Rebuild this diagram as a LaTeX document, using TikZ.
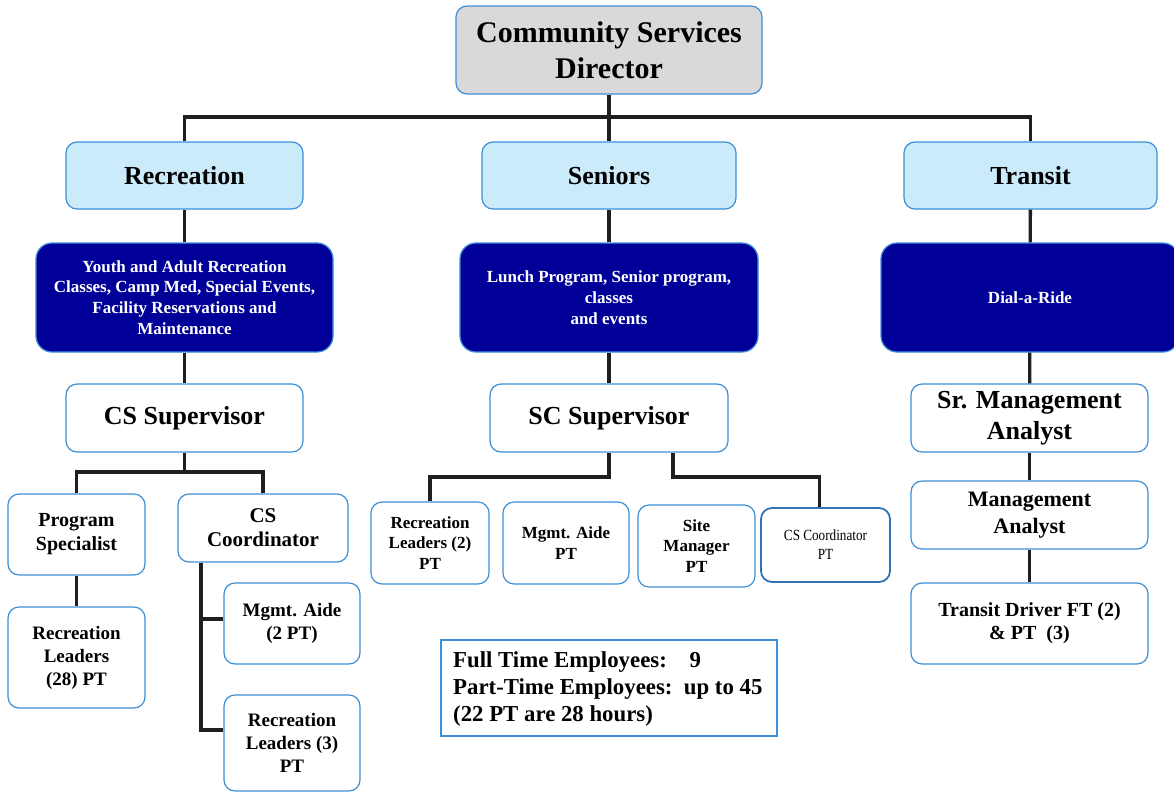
\documentclass[tikz,border=0pt]{standalone}
\usepackage{fontspec}
\setmainfont{Liberation Serif}
\newfontfamily\condfont{Liberation Serif}[FakeStretch=0.85]
\newcommand\fsz[2]{\fontsize{#1}{#2}\selectfont}
\definecolor{bord}{HTML}{3D8FD6}
\definecolor{bordd}{HTML}{2F75B5}
\definecolor{lblue}{HTML}{CCEBFA}
\definecolor{navy}{HTML}{000099}
\definecolor{dgray}{HTML}{D9D9D9}
\tikzset{
 conn/.style={line width=3.3pt, draw=black!88},
 bx/.style={draw=bord, line width=1.2pt, rounded corners=11pt, align=center, inner sep=0pt, text=black},
 wbox/.style={bx, fill=white},
 lbox/.style={bx, fill=lblue, minimum width=237pt, minimum height=67pt, font=\bfseries\fsz{26}{31}},
 dbox/.style={bx, fill=navy, text=white, rounded corners=16pt, minimum width=297pt, minimum height=109pt, font=\bfseries\fsz{17}{20.7}},
}
\begin{document}
\begin{tikzpicture}[x=1pt,y=-1pt]
\useasboundingbox[fill=white] (0,0) rectangle (1174,793);
% top
\node[bx, fill=dgray, minimum width=306pt, minimum height=88pt, font=\bfseries\fsz{30}{36}] (dir) at (609,50) {Community Services\\Director};
\node[lbox] (rec) at (184.5,175.5) {Recreation};
\node[lbox, minimum width=254pt] (sen) at (609,175.5) {Seniors};
\node[lbox, minimum width=253pt] (tra) at (1030.5,175.5) {Transit};
% dark boxes
\node[dbox] (recd) at (184.5,297.5) {Youth and Adult Recreation\\Classes, Camp Med, Special Events,\\Facility Reservations and\\Maintenance};
\node[dbox, minimum width=298pt] (send) at (609,297.5) {Lunch Program, Senior program,\\classes\\and events};
\node[dbox, minimum width=298pt] (trad) at (1030,297.5) {Dial-a-Ride};
% supervisors
\node[wbox, minimum width=237pt, minimum height=68pt, font=\bfseries\fsz{26}{31}] (cssup) at (184.5,418) {CS Supervisor};
\node[wbox, minimum width=238pt, minimum height=68pt, font=\bfseries\fsz{26}{31}] (scsup) at (609,418) {SC Supervisor};
\node[wbox, minimum width=237pt, minimum height=68pt, font=\bfseries\fsz{26}{31}] (srma) at (1029.5,418) {Sr. Management\\Analyst};
% transit column
\node[wbox, minimum width=237pt, minimum height=68pt, font=\bfseries\fsz{22}{27}] (ma) at (1029.5,515) {Management\\Analyst};
\node[wbox, minimum width=237pt, minimum height=81pt, font=\bfseries\fsz{20}{23}] (td) at (1029.5,623.5) {Transit Driver FT (2)\\\& PT\ \ (3)};
% recreation column
\node[wbox, minimum width=137pt, minimum height=81pt, font=\bfseries\fsz{20}{24}] (ps) at (76.5,534.5) {Program\\Specialist};
\node[wbox, minimum width=137pt, minimum height=101pt, font=\bfseries\fsz{19}{23}] (rl28) at (76.5,657.5) {Recreation\\Leaders\\(28) PT};
\node[wbox, minimum width=170pt, minimum height=68pt, font=\bfseries\fsz{21}{24}] (csc) at (263,528) {CS\\Coordinator};
\node[wbox, minimum width=136pt, minimum height=81pt, font=\bfseries\fsz{19}{23}] (ma2) at (292,623.5) {Mgmt. Aide\\(2 PT)};
\node[wbox, minimum width=136pt, minimum height=96pt, font=\bfseries\fsz{19}{23}] (rl3) at (292,743) {Recreation\\Leaders (3)\\PT};
% seniors row
\node[wbox, minimum width=118pt, minimum height=82pt, font=\bfseries\fsz{17}{20.5}] (rl2) at (430,543) {Recreation\\Leaders (2)\\PT};
\node[wbox, minimum width=126pt, minimum height=82pt, font=\bfseries\fsz{17}{20.5}] (mapt) at (566,543) {Mgmt. Aide\\PT};
\node[wbox, minimum width=117pt, minimum height=82pt, font=\bfseries\fsz{17}{20.5}] (sm) at (696.5,546) {Site\\Manager\\PT};
\node[wbox, draw=bordd, line width=1.8pt, minimum width=129pt, minimum height=74pt, font=\condfont\fsz{15.5}{19}] (cscpt) at (825.5,545) {CS Coordinator\\PT};
% legend
\node[draw=bord, line width=1.2pt, fill=white, minimum width=336pt, minimum height=96pt, inner sep=0pt] (leg) at (609,688) {};
\node[anchor=west, inner sep=0pt, align=left, font=\bfseries\fsz{22.8}{27}] (legt) at (453,689) {%
\begin{tabular}{@{}l@{\ \ }l@{}}
Full Time Employees: & \ 9\\
Part-Time Employees: & up to 45\\
\multicolumn{2}{@{}l@{}}{(22 PT are 28 hours)}
\end{tabular}};
% connectors
\coordinate (bus) at (609,117);
\draw[conn] (dir.south) -- (sen.north);
\draw[conn] (rec.north) -- (rec.north |- bus) -- (tra.north |- bus) -- (tra.north);
\draw[conn] (rec) -- (recd);
\draw[conn] (recd) -- (cssup);
\draw[conn] (sen) -- (send);
\draw[conn] (send) -- (scsup);
\draw[conn] (tra) -- (trad);
\draw[conn] (trad) -- (srma);
\draw[conn] (srma) -- (ma);
\draw[conn] (ma) -- (td);
\coordinate (rbus) at (184,472);
\draw[conn] (cssup.south) -- (cssup.south |- rbus);
\draw[conn] (ps.north) -- (ps.north |- rbus) -- (csc.north |- rbus) -- (csc.north);
\draw[conn] (ps) -- (rl28);
\coordinate (cbr) at (201,0);
\draw[conn] (csc.south -| cbr) |- ([yshift=13pt]rl3.west);
\draw[conn] (cbr |- ma2.west) ++(0,-4.5) -- ([yshift=4.5pt]ma2.west);
\coordinate (sbus) at (609,477);
\draw[conn] (scsup.south) -- (scsup.south |- sbus) -| (rl2.north);
\draw[conn] ([xshift=64pt]scsup.south) -- ([xshift=64pt]scsup.south |- sbus) -| ([xshift=-6pt]cscpt.north);
\end{tikzpicture}
\end{document}
